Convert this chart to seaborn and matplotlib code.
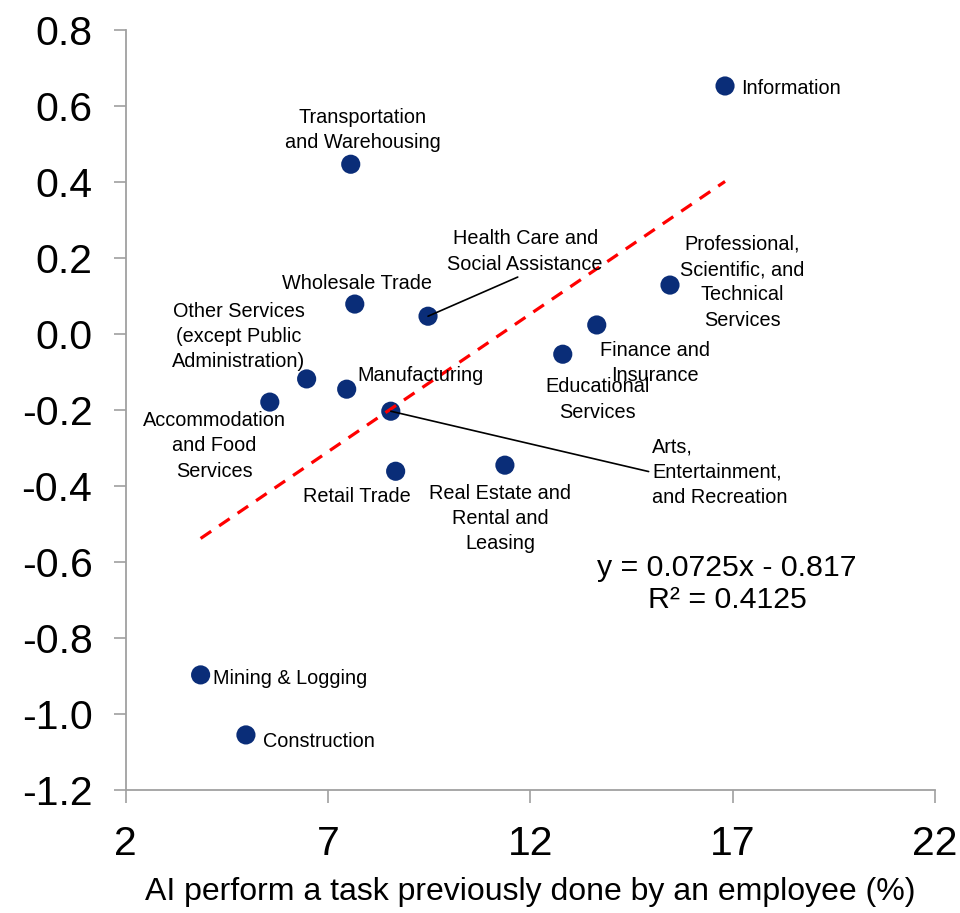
import numpy as np
import pandas as pd
import matplotlib
matplotlib.use("Agg")
import matplotlib.pyplot as plt
import seaborn as sns

# industries, x = share where AI performs a task previously done by an employee (%)
industries = [
    "Information",
    "Transportation\nand Warehousing",
    "Wholesale Trade",
    "Health Care and\nSocial Assistance",
    "Professional,\nScientific, and\nTechnical\nServices",
    "Finance and\nInsurance",
    "Educational\nServices",
    "Other Services\n(except Public\nAdministration)",
    "Manufacturing",
    "Accommodation\nand Food\nServices",
    "Arts,\nEntertainment,\nand Recreation",
    "Retail Trade",
    "Real Estate and\nRental and\nLeasing",
    "Mining & Logging",
    "Construction",
]
ai_share = [16.81, 7.56, 7.66, 9.47, 15.45, 13.64, 12.80, 6.47, 7.46, 5.56, 8.55, 8.67, 11.37, 3.85, 4.97]
y_values = [0.653, 0.447, 0.079, 0.047, 0.129, 0.024, -0.053, -0.118, -0.145, -0.179, -0.203, -0.361, -0.345, -0.897, -1.055]

slope, intercept, r2 = 0.0725, -0.817, 0.4125

# label offsets in points from the marker, alignment, leader line anchor (None = no leader)
label_offsets = [
    (11.5, -1.5, "left", None),
    (8.6, 24.5, "center", None),
    (1.4, 14.5, "center", None),
    (70, 46.5, "center", (0.5, 0.0)),
    (52, 2, "center", None),
    (42, -27.5, "center", None),
    (25, -32.5, "center", None),
    (-49, 30.5, "center", None),
    (8, 9.5, "left", None),
    (-40, -31.5, "center", None),
    (188, -44, "left", (0.0, 0.5)),
    (-28, -18.5, "center", None),
    (-3.6, -38.5, "center", None),
    (8.6, -2.9, "left", None),
    (12, -5, "left", None),
]

df = pd.DataFrame({"industry": industries, "x": ai_share, "y": y_values})

sns.set_style("white")
plt.rcParams["font.family"] = ["Liberation Sans", "DejaVu Sans"]
plt.rcParams["text.color"] = "black"
plt.rcParams["axes.labelcolor"] = "black"
plt.rcParams["xtick.labelcolor"] = "black"
plt.rcParams["ytick.labelcolor"] = "black"

fig = plt.figure(figsize=(9.6, 9.13), dpi=100)
ax = fig.add_axes([0.131, 0.1347, 0.843, 0.8323])

line_x = np.array([df["x"].min(), df["x"].max()])
line_df = pd.DataFrame({"x": line_x, "y": slope * line_x + intercept})
sns.lineplot(data=line_df, x="x", y="y", ax=ax, color="#ff0000", lw=2.3,
             linestyle=(0, (4, 3)), zorder=3)

sns.scatterplot(data=df, x="x", y="y", ax=ax, s=190, color="#0a2d78",
                edgecolor="none", zorder=2)

for (name, px, py), (dx, dy, ha, anchor) in zip(zip(industries, ai_share, y_values), label_offsets):
    arrow = None
    if anchor is not None:
        arrow = dict(arrowstyle="-", color="black", lw=1.2, shrinkA=0, shrinkB=0, relpos=anchor)
    ax.annotate(name, xy=(px, py), xytext=(dx, dy), textcoords="offset points",
                ha=ha, va="center", fontsize=14.3, linespacing=1.42,
                arrowprops=arrow, zorder=4)

ax.text(16.86, -0.658, f"y = {slope}x - {abs(intercept)}\nR² = {r2}",
        ha="center", va="center", fontsize=21.8, linespacing=1.15)

ax.set_xlim(2, 22)
ax.set_ylim(-1.2, 0.8)
ax.set_xticks([2, 7, 12, 17, 22])
yticks = np.round(np.arange(-1.2, 0.81, 0.2), 1)
ax.set_yticks(yticks)
ax.set_yticklabels([f"{v:.1f}" if v != 0 else "0.0" for v in yticks])
ax.tick_params(axis="both", labelsize=29.5, length=9, width=1.2, color="#a0a0a0",
               direction="out", left=True, bottom=True)
ax.tick_params(axis="x", pad=16)
ax.tick_params(axis="y", pad=15)
ax.set_xlabel("AI perform a task previously done by an employee (%)", fontsize=23, labelpad=10)
ax.set_ylabel("")

for side in ["top", "right"]:
    ax.spines[side].set_visible(False)
for side in ["left", "bottom"]:
    ax.spines[side].set_color("#a0a0a0")
    ax.spines[side].set_linewidth(1.3)

fig.savefig("out.png", dpi=100)
